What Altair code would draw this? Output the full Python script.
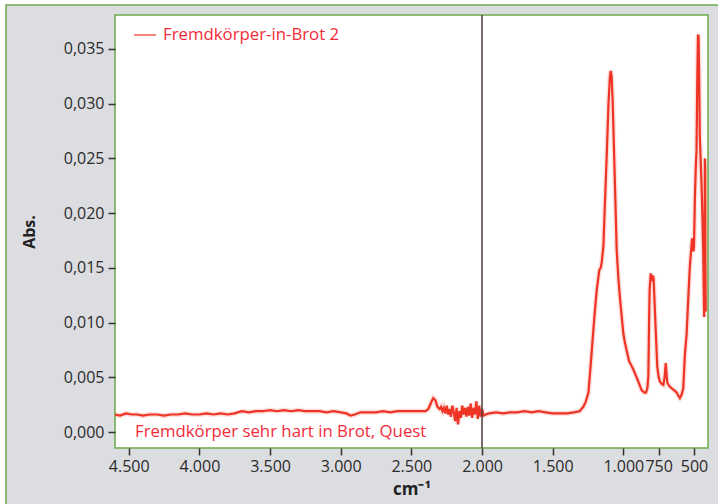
import altair as alt
import pandas as pd

# ---- data ----
wavenumber = [
    4600, 4560, 4520, 4480, 4440, 4400, 4350, 4300, 4250, 4200, 4150, 4100, 4050, 4000,
    3950, 3900, 3850, 3800, 3750, 3700, 3650, 3600, 3550, 3500, 3450, 3400, 3350, 3300,
    3250, 3200, 3150, 3100, 3050, 3000, 2960, 2930, 2900, 2860, 2800, 2750, 2700, 2650,
    2600, 2550, 2500, 2450, 2400, 2380, 2360, 2345, 2330, 2315, 2300, 2290, 2280, 2270,
    2260, 2250, 2240, 2230, 2220, 2210, 2200, 2190, 2180, 2170, 2160, 2150, 2140, 2130,
    2120, 2110, 2100, 2090, 2080, 2070, 2060, 2050, 2040, 2030, 2020, 2010, 2000, 1990,
    1975, 1950, 1900, 1850, 1800, 1750, 1700, 1650, 1600, 1550, 1500, 1450, 1400, 1350,
    1310, 1283, 1265, 1247, 1235, 1223, 1205, 1188, 1170, 1160, 1153, 1141, 1130, 1117,
    1105, 1095, 1089, 1083, 1075, 1059, 1047, 1035, 1023, 1000, 988, 960, 929, 900,
    870, 850, 840, 830, 823, 818, 814, 806, 798, 792, 786, 778, 770, 760, 750, 741,
    728, 717, 708, 700, 694, 689, 675, 658, 640, 622, 610, 600, 588, 576, 565, 552,
    541, 530, 524, 515, 510, 504, 500, 494, 488, 482, 477, 472, 468, 464, 459, 452,
    447, 441, 435, 430, 428, 425, 423, 421, 419, 417,
]
absorbance = [
    0.0016, 0.0015, 0.0017, 0.0016, 0.0016, 0.0015, 0.0016, 0.0016, 0.0015, 0.0016, 0.0016, 0.0017, 0.0016, 0.0016,
    0.0017, 0.0016, 0.0017, 0.0016, 0.0017, 0.0019, 0.0018, 0.0019, 0.0019, 0.0020, 0.0019, 0.0020, 0.0019, 0.0020,
    0.0019, 0.0019, 0.0019, 0.0018, 0.0019, 0.0018, 0.0017, 0.0015, 0.0016, 0.0018, 0.0018, 0.0018, 0.0019, 0.0018,
    0.0019, 0.0019, 0.0019, 0.0019, 0.0019, 0.0021, 0.0027, 0.0031, 0.0029, 0.0023, 0.0021, 0.0023, 0.0019, 0.0022,
    0.0017, 0.0024, 0.0016, 0.0021, 0.0014, 0.0024, 0.0018, 0.0010, 0.0022, 0.0007, 0.0019, 0.0013, 0.0024, 0.0016,
    0.0022, 0.0014, 0.0023, 0.0015, 0.0026, 0.0013, 0.0022, 0.0016, 0.0028, 0.0012, 0.0024, 0.0014, 0.0021, 0.0015,
    0.0016, 0.0017, 0.0018, 0.0017, 0.0018, 0.0018, 0.0019, 0.0018, 0.0019, 0.0018, 0.0017, 0.0017, 0.0017, 0.0018,
    0.0019, 0.0023, 0.0028, 0.0036, 0.0055, 0.0075, 0.0105, 0.0130, 0.0148, 0.0150, 0.0155, 0.0170, 0.0210, 0.0255,
    0.0300, 0.0325, 0.0330, 0.0325, 0.0300, 0.0224, 0.0166, 0.0140, 0.0121, 0.0090, 0.0081, 0.0065, 0.0057, 0.0048,
    0.0038, 0.0036, 0.0036, 0.0040, 0.0051, 0.0100, 0.0130, 0.0145, 0.0138, 0.0143, 0.0140, 0.0115, 0.0090, 0.0060, 0.0050, 0.0046,
    0.0044, 0.0043, 0.0050, 0.0063, 0.0052, 0.0045, 0.0042, 0.0040, 0.0038, 0.0036, 0.0033, 0.0031, 0.0034, 0.0040, 0.0070, 0.0090,
    0.0121, 0.0150, 0.0160, 0.0175, 0.0177, 0.0165, 0.0170, 0.0212, 0.0240, 0.0258, 0.0320, 0.0362, 0.0363, 0.0330, 0.0270, 0.0245,
    0.0228, 0.0200, 0.0166, 0.0120, 0.0105, 0.0180, 0.0250, 0.0240, 0.0150, 0.0110,
]
series_name = "Fremdkörper-in-Brot 2"
caption = "Fremdkörper sehr hart in Brot, Quest"
x_ticks = [4500, 4000, 3500, 3000, 2500, 2000, 1500, 1000, 750, 500]
y_ticks = [0.0, 0.005, 0.010, 0.015, 0.020, 0.025, 0.030, 0.035]
marker_x = [2000]
x_domain = [401, 4597]
y_domain = [-0.00146, 0.0381]

W, H = 593, 433
FONT = "Open Sans"
GREEN = "#6aab48"
LINE = "#ee3424"
TEXT_RED = "#f52a38"

df = pd.DataFrame({
    "wn": wavenumber,
    "abs": absorbance,
    "idx": list(range(len(wavenumber))),
    "series": [series_name] * len(wavenumber),
})
rule_df = pd.DataFrame({"wn": marker_x})

xs = alt.Scale(domain=x_domain, reverse=True, nice=False, zero=False)
ys = alt.Scale(domain=y_domain, nice=False, zero=False)

x_axis = alt.Axis(
    values=x_ticks,
    labelExpr="datum.value >= 1000 ? replace(format(datum.value, ','), ',', '.') : format(datum.value, 'd')",
    title="cm⁻¹", titleFontWeight="bold", titleFontSize=17, titlePadding=7,
    labelFontSize=16, labelColor="#2b2b2b", labelOverlap=False, labelFlush=False,
    tickSize=7, tickWidth=1.5, tickColor="#333333", labelPadding=3,
    domain=False, grid=False, zindex=1, titleColor="#222222",
)
y_axis = alt.Axis(
    values=y_ticks,
    labelExpr="replace(format(datum.value, '.3f'), '.', ',')",
    title="Abs.", titleFontWeight="bold", titleFontSize=16, titlePadding=26,
    labelFontSize=16, labelColor="#2b2b2b",
    tickSize=7, tickWidth=1.5, tickColor="#333333", labelPadding=4,
    domain=False, grid=False, zindex=1, titleColor="#222222",
)

X = alt.X("wn:Q", scale=xs, axis=x_axis)
Y = alt.Y("abs:Q", scale=ys, axis=y_axis)

one = alt.Data(values=[{"k": 1}])
panel = alt.Chart(one).mark_rect(fill="#dcdde0", stroke=GREEN, strokeWidth=1.5).encode(
    x=alt.value(-109), x2=alt.value(W + 40), y=alt.value(-10), y2=alt.value(H + 90)
)
plotbg = alt.Chart(one).mark_rect(fill="white", stroke=GREEN, strokeWidth=1.5).encode(
    x=alt.value(0), x2=alt.value(W), y=alt.value(0), y2=alt.value(H)
)

halo = alt.Chart(df).mark_line(strokeWidth=5, opacity=0.22, color="#f26a5a", clip=True).encode(
    x=X, y=Y, order="idx:Q"
)
line = alt.Chart(df).mark_line(strokeWidth=2.2, clip=True).encode(
    x=X, y=Y, order="idx:Q",
    color=alt.Color("series:N", scale=alt.Scale(range=[LINE]),
                    legend=alt.Legend(orient="none", legendX=18, legendY=8, title=None,
                                      symbolType="stroke", symbolSize=484, symbolStrokeWidth=1.2,
                                      labelFontSize=16.8, labelColor=TEXT_RED, labelFont=FONT,
                                      labelLimit=0, padding=0, labelOffset=6)),
)
rule = alt.Chart(rule_df).mark_rule(color="#4d3b3b", strokeWidth=1.5).encode(x=X)
cap = alt.Chart(alt.Data(values=[{"t": caption}])).mark_text(
    align="left", baseline="middle", fontSize=16.8, color=TEXT_RED, font=FONT
).encode(x=alt.value(20), y=alt.value(H - 16), text="t:N")

chart = alt.layer(panel, plotbg, halo, line, rule, cap).properties(
    width=W, height=H,
    autosize=alt.AutoSizeParams(type="none"),
    padding={"left": 115, "top": 15, "right": 10, "bottom": 56},
    background="white",
).configure(font=FONT).configure_view(stroke=None)

chart.save("out.html", embed_options={"renderer": "svg", "actions": False})
